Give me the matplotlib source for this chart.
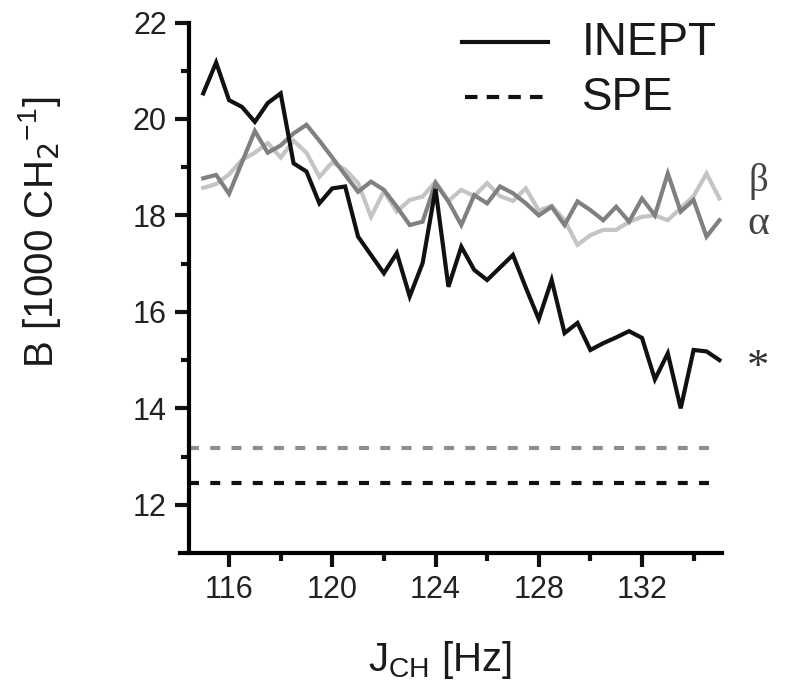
import numpy as np
import matplotlib
matplotlib.use("agg")
import matplotlib.pyplot as plt
from matplotlib.lines import Line2D

plt.rcParams['font.family'] = ['Liberation Sans', 'DejaVu Sans']

# J_CH in Hz, 0.5 Hz steps
j_ch = np.arange(115, 135.01, 0.5)

inept_star = [20.53, 21.17, 20.39, 20.25, 19.94, 20.33, 20.53, 19.08, 18.91, 18.25,
              18.56, 18.60, 17.56, 17.18, 16.80, 17.22, 16.32, 17.01, 18.55, 16.52,
              17.35, 16.87, 16.66, 16.92, 17.18, 16.50, 15.85, 16.66, 15.56, 15.77,
              15.21, 15.35, 15.47, 15.60, 15.46, 14.60, 15.14, 14.00, 15.21, 15.18,
              15.00]
inept_alpha = [18.77, 18.84, 18.45, 19.10, 19.75, 19.30, 19.45, 19.70, 19.88, 19.55,
               19.20, 18.84, 18.49, 18.70, 18.53, 18.18, 17.80, 17.87, 18.67, 18.29,
               17.80, 18.42, 18.25, 18.60, 18.46, 18.25, 18.00, 18.18, 17.80, 18.29,
               18.11, 17.90, 18.18, 17.87, 18.35, 18.00, 18.87, 18.08, 18.32, 17.56,
               17.90]
inept_beta = [18.57, 18.65, 18.85, 19.15, 19.30, 19.50, 19.20, 19.55, 19.30, 18.80,
              19.10, 18.95, 18.67, 17.97, 18.50, 18.08, 18.32, 18.39, 18.70, 18.30,
              18.53, 18.40, 18.67, 18.40, 18.30, 18.56, 18.10, 18.20, 17.90, 17.39,
              17.59, 17.70, 17.70, 17.87, 17.97, 18.00, 17.90, 18.15, 18.40, 18.87,
              18.35]

spe_gray = 13.18
spe_black = 12.45

black = '#111111'
dark_gray = '#808080'
light_gray = '#c4c4c4'
mid_gray = '#8e8e8e'

W, H = 787, 694
fig = plt.figure(figsize=(W / 100, H / 100), dpi=100)
ax = fig.add_axes([180 / W, (H - 553) / H, 542 / W, 530.5 / H])

lw = 3.0
ax.plot(j_ch, inept_beta, color=light_gray, lw=lw, solid_joinstyle='miter')
ax.plot(j_ch, inept_alpha, color=dark_gray, lw=lw, solid_joinstyle='miter')
ax.plot(j_ch, inept_star, color=black, lw=lw, solid_joinstyle='miter')

dash = (0, (2.4, 2.7))
ax.hlines(spe_gray, 114.45, 135, colors=mid_gray, lw=lw, linestyles=[dash])
ax.hlines(spe_black, 114.45, 135, colors=black, lw=lw, linestyles=[dash])

ax.set_xlim(114.1, 135.1)
ax.set_ylim(11, 22)
ax.set_xticks([116, 120, 124, 128, 132])
ax.set_xticks([118, 122, 126, 130, 134], minor=True)
ax.set_yticks([12, 14, 16, 18, 20, 22])
ax.set_yticks([13, 15, 17, 19, 21], minor=True)

for s in ['top', 'right']:
    ax.spines[s].set_visible(False)
ax.spines['left'].set_position(('data', 114.45))
ax.spines['left'].set_linewidth(3)
ax.spines['bottom'].set_linewidth(3)
ax.tick_params(which='major', length=10, width=3, labelsize=22, pad=6, color='#111111',
               labelcolor='#222222')
ax.tick_params(which='minor', length=6, width=3, color='#111111')

# axis titles
fig.text(40 / W, 1 - 232 / H, r'B [1000 CH$_2$$^{\mathregular{-1}}$]', rotation=90,
         ha='center', va='center', fontsize=29, color='#1a1a1a')
fig.text(440 / W, 1 - 660 / H, r'J$_{\mathregular{CH}}$ [Hz]', ha='center', va='center',
         fontsize=29, color='#1a1a1a')

# legend
fig.add_artist(Line2D([462 / W, 548 / W], [1 - 42 / H, 1 - 42 / H], color=black, lw=lw,
                      transform=fig.transFigure))
fig.add_artist(Line2D([465 / W, 545 / W], [1 - 97 / H, 1 - 97 / H], color=black, lw=lw,
                      linestyle=(0, (3.0, 2.2)), transform=fig.transFigure))
fig.text(582 / W, 1 - 43 / H, 'INEPT', ha='left', va='center', fontsize=33, color='#1a1a1a')
fig.text(582 / W, 1 - 98 / H, 'SPE', ha='left', va='center', fontsize=33, color='#1a1a1a')

# series markers at right edge
fig.text(758 / W, 1 - 182 / H, 'β', ha='center', va='center', fontsize=28,
         color='#444444', family='Liberation Serif')
fig.text(758 / W, 1 - 224 / H, 'α', ha='center', va='center', fontsize=30,
         color='#444444', family='Liberation Serif')
fig.text(758 / W, 1 - 368 / H, '*', ha='center', va='center', fontsize=32,
         color='#333333', family='Liberation Serif')

fig.savefig('out.png', dpi=100)
